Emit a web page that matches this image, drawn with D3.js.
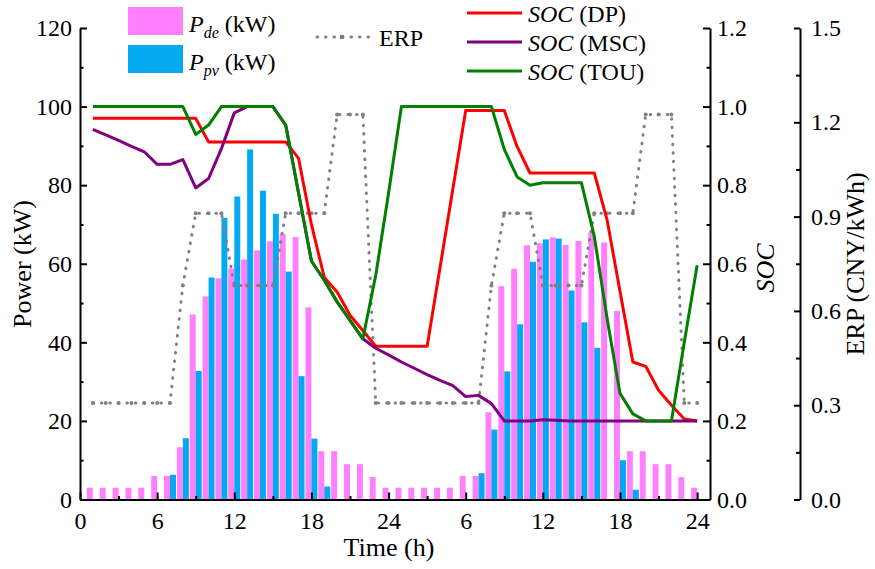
<!DOCTYPE html>
<html>
<head>
<meta charset="utf-8">
<script src="https://cdnjs.cloudflare.com/ajax/libs/d3/7.8.5/d3.min.js"></script>
<style>
body { margin: 0; background: #fff; }
svg, text, tspan { font-family: "Liberation Serif", "Times New Roman", serif; }
text { fill: #000; }
</style>
</head>
<body>
<div id="chart"></div>
<script>
// Chart data (hours 1..48 over two days)
var hours = [1,2,3,4,5,6,7,8,9,10,11,12,13,14,15,16,17,18,19,20,21,22,23,24,
  25,26,27,28,29,30,31,32,33,34,35,36,37,38,39,40,41,42,43,44,45,46,47,48];
var xTickValues = [0,6,12,18,24,30,36,42,48];
var xTickLabels = ["0","6","12","18","24","6","12","18","24"];

// power (kW)
var pDe = [3,3,3,3,3,6,6,13.3,47.1,51.7,56.3,58.8,61.1,63.4,65.7,67.6,66.8,48.9,12.3,12.3,9,9,5.7,3,
  3,3,3,3,3,6,6,22.2,54.3,58.7,64.7,65.2,66.7,64.8,65.8,67.9,65.4,48,12.3,12.3,9,9,5.7,3];
var pPv = [0,0,0,0,0,0,6.3,15.6,32.7,56.5,71.7,77.1,89.1,78.6,72.7,58,31.4,15.5,3.3,0,0,0,0,0,
  0,0,0,0,0,0,6.7,17.8,32.6,44.6,60.5,66.2,66.4,53.2,45.1,38.6,0,10,2.5,0,0,0,0,0];

// electricity price (CNY/kWh)
var erp = [0.307,0.307,0.307,0.307,0.307,0.307,0.307,0.681,0.911,0.911,0.911,0.681,0.681,0.681,0.681,0.911,0.911,0.911,0.911,1.225,1.225,1.225,0.307,0.307,
  0.307,0.307,0.307,0.307,0.307,0.307,0.307,0.681,0.911,0.911,0.911,0.681,0.681,0.681,0.681,0.911,0.911,0.911,0.911,1.225,1.225,1.225,0.307,0.307];

// state of charge
var socDP = [0.97,0.97,0.97,0.97,0.97,0.97,0.97,0.97,0.97,0.91,0.91,0.91,0.91,0.91,0.91,0.91,0.868,0.70,0.565,0.528,0.469,0.43,0.39,0.39,
  0.39,0.39,0.39,0.59,0.79,0.99,0.99,0.99,0.99,0.898,0.831,0.831,0.831,0.831,0.831,0.831,0.711,0.53,0.35,0.339,0.278,0.24,0.205,0.20];
var socMSC = [0.942,0.928,0.914,0.899,0.885,0.853,0.853,0.865,0.793,0.817,0.893,0.984,1.0,1.0,1.0,0.953,0.78,0.607,0.558,0.503,0.456,0.409,0.385,0.368,
  0.35,0.334,0.318,0.303,0.29,0.262,0.265,0.244,0.20,0.20,0.20,0.203,0.202,0.20,0.20,0.20,0.20,0.20,0.20,0.20,0.20,0.20,0.20,0.20];
var socTOU = [1.0,1.0,1.0,1.0,1.0,1.0,1.0,1.0,0.929,0.953,1.0,1.0,1.0,1.0,1.0,0.953,0.78,0.607,0.558,0.503,0.456,0.409,0.57,0.78,
  1.0,1.0,1.0,1.0,1.0,1.0,1.0,1.0,0.891,0.821,0.80,0.806,0.806,0.806,0.806,0.67,0.46,0.27,0.218,0.20,0.20,0.20,0.40,0.596];

// Setup chart dimensions
var svgWidth = 875;
var svgHeight = 569;
var plot = { left: 80, right: 710, top: 28, bottom: 499.5 };
var serif = "Liberation Serif";

var svg = d3.select("#chart")
  .append("svg")
  .attr("width", svgWidth)
  .attr("height", svgHeight)
  .attr("font-family", serif);

// scales
var x = d3.scaleLinear().domain([0, 49]).range([plot.left, plot.right]);
var yPower = d3.scaleLinear().domain([0, 120]).range([plot.bottom, plot.top]);
var ySoc = d3.scaleLinear().domain([0, 1.2]).range([plot.bottom, plot.top]);
var yErp = d3.scaleLinear().domain([0, 1.5]).range([plot.bottom, plot.top]);

var pink = "#ff80ff";
var blue = "#05a9f2";
var barW = 0.465;

// bars
svg.append("g").selectAll("rect")
  .data(hours)
  .enter()
  .append("rect")
  .attr("x", (d) => x(d - barW))
  .attr("width", (d) => x(d) - x(d - barW))
  .attr("y", (d, i) => yPower(pDe[i]))
  .attr("height", (d, i) => yPower(0) - yPower(pDe[i]))
  .attr("fill", pink);

svg.append("g").selectAll("rect")
  .data(hours)
  .enter()
  .append("rect")
  .attr("x", (d) => x(d))
  .attr("width", (d) => x(d + barW) - x(d))
  .attr("y", (d, i) => yPower(pPv[i]))
  .attr("height", (d, i) => yPower(0) - yPower(pPv[i]))
  .attr("fill", blue);

// ERP dotted line
var erpLine = d3.line().x((d) => x(d)).y((d, i) => yErp(erp[i]));
svg.append("path")
  .attr("d", erpLine(hours))
  .attr("fill", "none")
  .attr("stroke", "#808080")
  .attr("stroke-width", 3)
  .attr("stroke-linecap", "round")
  .attr("stroke-dasharray", "0.5,8");

svg.append("g").selectAll("circle")
  .data(hours)
  .enter()
  .append("circle")
  .attr("cx", (d) => x(d))
  .attr("cy", (d, i) => yErp(erp[i]))
  .attr("r", 2)
  .attr("fill", "#808080");

// SOC lines
function socLine(values, color) {
  var line = d3.line().x((d) => x(d)).y((d, i) => ySoc(values[i]));
  svg.append("path")
    .attr("d", line(hours))
    .attr("fill", "none")
    .attr("stroke", color)
    .attr("stroke-width", 3)
    .attr("stroke-linejoin", "round");
}
socLine(socDP, "#ff0000");
socLine(socMSC, "#800080");
socLine(socTOU, "#008000");

// axes
function styleAxis(g) {
  g.selectAll("path, line").attr("stroke", "#000").attr("stroke-width", 2);
  g.selectAll("text").attr("font-size", 24).attr("font-family", serif).attr("fill", "#000");
}

var leftAxis = d3.axisLeft(yPower).tickValues([0,20,40,60,80,100,120]).tickSize(-7).tickSizeOuter(0).tickPadding(8);
svg.append("g").attr("transform", `translate(${plot.left},0)`).call(leftAxis).call(styleAxis);
svg.append("g").attr("transform", `translate(${plot.left},0)`)
  .call(d3.axisLeft(yPower).tickValues([10,30,50,70,90,110]).tickSize(-3.5).tickFormat(""))
  .call(styleAxis).select(".domain").remove();

var bottomAxis = d3.axisBottom(x).tickValues(xTickValues)
  .tickFormat((d, i) => xTickLabels[i]).tickSize(-7).tickSizeOuter(0).tickPadding(12);
svg.append("g").attr("transform", `translate(0,${plot.bottom})`).call(bottomAxis).call(styleAxis);
svg.append("g").attr("transform", `translate(0,${plot.bottom})`)
  .call(d3.axisBottom(x).tickValues([3,9,15,21,27,33,39,45]).tickSize(-3.5).tickFormat(""))
  .call(styleAxis).select(".domain").remove();

var socAxis = d3.axisRight(ySoc).tickValues([0,0.2,0.4,0.6,0.8,1.0,1.2])
  .tickFormat(d3.format(".1f")).tickSize(-7).tickSizeOuter(0).tickPadding(7);
svg.append("g").attr("transform", `translate(${plot.right},0)`).call(socAxis).call(styleAxis);
svg.append("g").attr("transform", `translate(${plot.right},0)`)
  .call(d3.axisRight(ySoc).tickValues([0.1,0.3,0.5,0.7,0.9,1.1]).tickSize(-3.5).tickFormat(""))
  .call(styleAxis).select(".domain").remove();

var erpAxis = d3.axisRight(yErp).tickValues([0,0.3,0.6,0.9,1.2,1.5])
  .tickFormat(d3.format(".1f")).tickSize(-6).tickSizeOuter(0).tickPadding(11);
svg.append("g").attr("transform", "translate(800,0)").call(erpAxis).call(styleAxis);
svg.append("g").attr("transform", "translate(800,0)")
  .call(d3.axisRight(yErp).tickValues([0.15,0.45,0.75,1.05,1.35]).tickSize(-4).tickFormat(""))
  .call(styleAxis).select(".domain").remove();

// axis titles
svg.append("text")
  .attr("transform", "translate(22,264) rotate(-90)")
  .attr("text-anchor", "middle").attr("dy", "0.35em")
  .attr("font-size", 26)
  .text("Power (kW)");

svg.append("text")
  .attr("transform", "translate(765,268) rotate(-90)")
  .attr("text-anchor", "middle").attr("dy", "0.35em")
  .attr("font-size", 26).attr("font-style", "italic")
  .text("SOC");

svg.append("text")
  .attr("transform", "translate(855,264) rotate(-90)")
  .attr("text-anchor", "middle").attr("dy", "0.35em")
  .attr("font-size", 26)
  .text("ERP (CNY/kWh)");

svg.append("text")
  .attr("x", 389).attr("y", 556)
  .attr("text-anchor", "middle")
  .attr("font-size", 26)
  .text("Time (h)");

// legend: bars
function barLegend(y, color, sub) {
  svg.append("rect").attr("x", 128).attr("y", y).attr("width", 55).attr("height", 28).attr("fill", color);
  var t = svg.append("text").attr("x", 189).attr("y", y + 25).attr("font-size", 24);
  t.append("tspan").attr("font-style", "italic").text("P");
  t.append("tspan").attr("font-style", "italic").attr("font-size", 16).attr("dy", 6).text(sub);
  t.append("tspan").attr("dy", -6).text(" (kW)");
}
barLegend(7, pink, "de");
barLegend(45, blue, "pv");

// legend: ERP
svg.append("line")
  .attr("x1", 317).attr("x2", 372).attr("y1", 37).attr("y2", 37)
  .attr("stroke", "#808080").attr("stroke-width", 3)
  .attr("stroke-linecap", "round").attr("stroke-dasharray", "0.5,8");
svg.append("rect").attr("x", 340).attr("y", 35).attr("width", 4).attr("height", 4).attr("fill", "#808080");
svg.append("text").attr("x", 379).attr("y", 46).attr("font-size", 24).text("ERP");

// legend: SOC lines
var socNames = ["DP", "MSC", "TOU"];
var socColors = ["#ff0000", "#800080", "#008000"];
socNames.forEach(function(name, i) {
  var ly = 13 + i * 29;
  svg.append("line")
    .attr("x1", 467).attr("x2", 522).attr("y1", ly).attr("y2", ly)
    .attr("stroke", socColors[i]).attr("stroke-width", 3);
  var t = svg.append("text").attr("x", 528).attr("y", ly + 8.5).attr("font-size", 24);
  t.append("tspan").attr("font-style", "italic").text("SOC");
  t.append("tspan").text(" (" + name + ")");
});
</script>
</body>
</html>
